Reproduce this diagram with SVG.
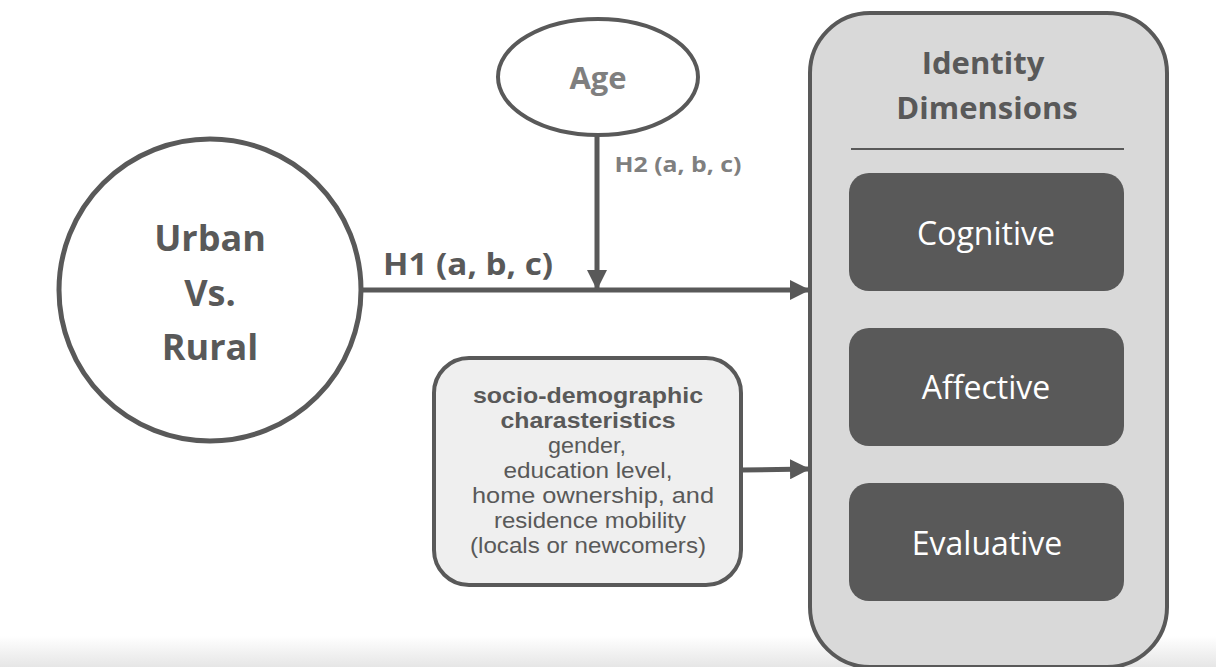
<svg xmlns="http://www.w3.org/2000/svg" width="1216" height="667" viewBox="0 0 1216 667">
<defs>
<marker id="arr" viewBox="0 0 10 10" refX="9" refY="5" markerWidth="4" markerHeight="4" markerUnits="strokeWidth" orient="auto">
<path d="M0,0 L10,5 L0,10 z" fill="#595959"/>
</marker>
<linearGradient id="bot" x1="0" y1="0" x2="0" y2="1">
<stop offset="0" stop-color="#ffffff"/>
<stop offset="1" stop-color="#e6e6e6"/>
</linearGradient>
<style>
.b{font-family:"Open Sans","Liberation Sans",sans-serif;font-weight:bold;fill:#595959;text-anchor:middle}
.s{font-family:"Liberation Sans",sans-serif;fill:#595959;text-anchor:middle;font-size:22px}
.sb{font-weight:bold}
.w{font-family:"Open Sans","Liberation Sans",sans-serif;fill:#ffffff;text-anchor:middle;font-size:32px}
.inner{fill:#595959}
.ln{stroke:#595959;stroke-width:5;fill:none}
</style>
</defs>
<rect width="1216" height="667" fill="#ffffff"/>
<rect x="0" y="636" width="1216" height="31" fill="url(#bot)"/>
<g id="connectors">
<line class="ln" x1="362" y1="290" x2="808" y2="290" marker-end="url(#arr)"/>
<line class="ln" x1="597" y1="134" x2="597" y2="288" marker-end="url(#arr)"/>
<line class="ln" x1="741" y1="470" x2="808" y2="469" marker-end="url(#arr)"/>
<text class="b" x="468" y="275" font-size="30" textLength="170" lengthAdjust="spacingAndGlyphs">H1 (a, b, c)</text>
<text class="b" x="678" y="172" font-size="22" textLength="127" lengthAdjust="spacingAndGlyphs" style="fill:#7f7f7f">H2 (a, b, c)</text>
</g>
<g id="urban">
<circle cx="210" cy="290" r="151" fill="#ffffff" stroke="#595959" stroke-width="5"/>
<text class="b" x="210" y="251" font-size="36">Urban</text>
<text class="b" x="210" y="306" font-size="36">Vs.</text>
<text class="b" x="210" y="360" font-size="36">Rural</text>
</g>
<g id="age">
<ellipse cx="598" cy="77" rx="100" ry="58" fill="#ffffff" stroke="#595959" stroke-width="4"/>
<text class="b" x="598" y="89" font-size="31" style="fill:#7f7f7f">Age</text>
</g>
<g id="socio">
<rect x="434" y="358" width="307" height="227" rx="35" fill="#efefef" stroke="#595959" stroke-width="4"/>
<text class="s sb" x="588" y="403" textLength="230" lengthAdjust="spacingAndGlyphs">socio-demographic</text>
<text class="s sb" x="588" y="428" textLength="175" lengthAdjust="spacingAndGlyphs">charasteristics</text>
<text class="s" x="587" y="453" textLength="78" lengthAdjust="spacingAndGlyphs">gender,</text>
<text class="s" x="588" y="478" textLength="169" lengthAdjust="spacingAndGlyphs">education level,</text>
<text class="s" x="593" y="503" textLength="242" lengthAdjust="spacingAndGlyphs">home ownership, and</text>
<text class="s" x="590" y="528" textLength="192" lengthAdjust="spacingAndGlyphs">residence mobility</text>
<text class="s" x="588" y="553" textLength="236" lengthAdjust="spacingAndGlyphs">(locals or newcomers)</text>
</g>
<g id="identity">
<rect x="810" y="13" width="357" height="654" rx="60" fill="#d9d9d9" stroke="#595959" stroke-width="4"/>
<text class="b" x="983" y="74" font-size="31">Identity</text>
<text class="b" x="987" y="119" font-size="31">Dimensions</text>
<line x1="851" y1="149" x2="1124" y2="149" stroke="#595959" stroke-width="2"/>
</g>
<g id="cognitive">
<rect class="inner" x="849" y="173" width="275" height="118" rx="20"/>
<text class="w" x="986" y="245">Cognitive</text>
</g>
<g id="affective">
<rect class="inner" x="849" y="328" width="275" height="118" rx="20"/>
<text class="w" x="986" y="399">Affective</text>
</g>
<g id="evaluative">
<rect class="inner" x="849" y="483" width="275" height="118" rx="20"/>
<text class="w" x="987" y="555">Evaluative</text>
</g>
</svg>
